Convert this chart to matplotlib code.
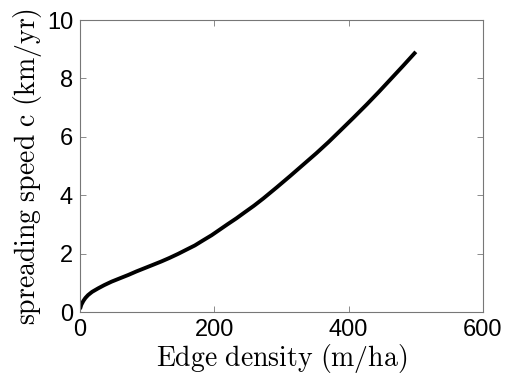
import matplotlib
matplotlib.use('Agg')
import matplotlib.pyplot as plt
import numpy as np

# edge density (m/ha) and spreading speed c (km/yr)
edge = [0, 2, 5, 8, 12, 18, 27, 36, 47, 60, 72, 84, 96, 108, 121, 133, 146, 158,
        171, 183, 196, 208, 220, 233, 245, 259, 273, 293, 313, 332, 352, 370, 387,
        407, 427, 445, 462, 481, 500]
speed = [0.1, 0.25, 0.38, 0.48, 0.58, 0.69, 0.81, 0.92, 1.04, 1.16, 1.27, 1.39, 1.50,
         1.61, 1.73, 1.85, 1.99, 2.13, 2.28, 2.45, 2.63, 2.82, 3.01, 3.21, 3.41, 3.64,
         3.89, 4.27, 4.66, 5.04, 5.44, 5.82, 6.20, 6.65, 7.11, 7.54, 7.96, 8.43, 8.91]

plt.rcParams['mathtext.fontset'] = 'cm'
plt.rcParams['font.family'] = 'Liberation Sans'

fig = plt.figure(figsize=(5.05, 3.82), dpi=100)
ax = fig.add_axes([0.1584, 0.1832, 0.798, 0.7644])
ax.plot(edge, speed, color='black', linewidth=2.8, solid_capstyle='butt',
        solid_joinstyle='round')

ax.set_xlim(0, 600)
ax.set_ylim(0, 10)
ax.set_xticks([0, 200, 400, 600])
ax.set_yticks([0, 2, 4, 6, 8, 10])
ax.tick_params(direction='in', length=4, width=0.6, color='#777777',
               labelsize=17, top=True, right=True, pad=5)
for s in ax.spines.values():
    s.set_color('#777777')
    s.set_linewidth(0.8)

ax.set_xlabel(r'$\mathrm{Edge\ density\ (m/ha)}$', fontsize=20, labelpad=1)
ax.set_ylabel(r'$\mathrm{spreading\ speed\ c\ (km/yr)}$', fontsize=20, labelpad=2)

fig.savefig('out.png', dpi=100)
